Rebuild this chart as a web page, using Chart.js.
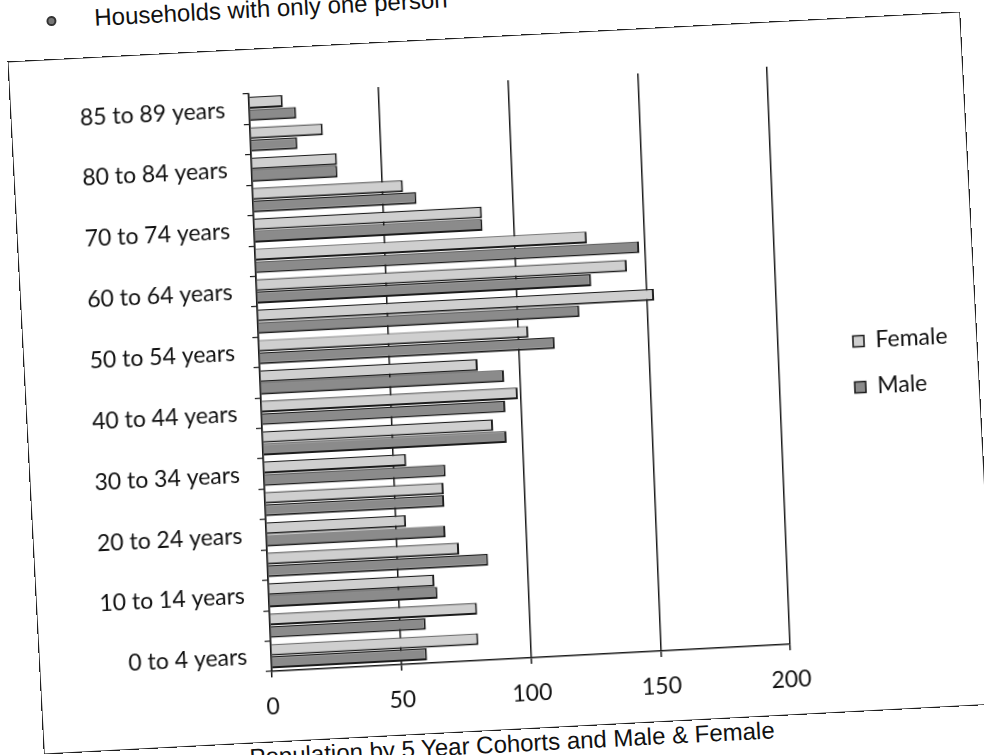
<!DOCTYPE html>
<html>
<head>
<meta charset="utf-8">
<script src="https://cdn.jsdelivr.net/npm/chart.js@4.4.1/dist/chart.umd.min.js"></script>
<style>
  html, body { margin: 0; padding: 0; background: #fff; overflow: hidden; }
  body { width: 984px; height: 755px; position: relative; }
  #frame {
    position: absolute; left: 25.5px; top: 36.5px; width: 952px; height: 692px;
    transform: rotate(-3deg); transform-origin: 50% 50%;
  }
  #border {
    position: absolute; left: 0; top: 0; width: 952px; height: 692px;
    outline: 1.5px solid #1e1e1e; pointer-events: none;
  }
  #chart {
    position: absolute; left: 0; top: 0;
    transform: translateX(3.4px) skewX(-0.7deg); transform-origin: 50% 50%;
  }
  #doctext {
    position: absolute; left: 88px; top: -52px; white-space: nowrap;
    font-family: "Liberation Sans", Arial, sans-serif; font-size: 24px; line-height: 24px; color: #111;
  }
  #bullet {
    position: absolute; left: 40px; top: -44px; width: 6px; height: 6px;
    border: 2px solid #333; border-radius: 50%; background: #777;
  }
  #caption {
    position: absolute; right: 222px; top: 693px; white-space: nowrap;
    font-family: "Liberation Sans", Arial, sans-serif; font-size: 24px; line-height: 28px; color: #111;
  }
</style>
</head>
<body>
<div id="frame">
  <div id="bullet"></div>
  <div id="doctext">Households with only one person</div>
  <canvas id="chart" width="952" height="692"></canvas>
  <div id="border"></div>
  <div id="caption">Population by 5 Year Cohorts and Male &amp; Female</div>
</div>
<script>
const ageGroups = [
  "0 to 4 years", "5 to 9 years", "10 to 14 years", "15 to 19 years",
  "20 to 24 years", "25 to 29 years", "30 to 34 years", "35 to 39 years",
  "40 to 44 years", "45 to 49 years", "50 to 54 years", "55 to 59 years",
  "60 to 64 years", "65 to 69 years", "70 to 74 years", "75 to 79 years",
  "80 to 84 years", "85 years and over", "85 to 89 years"
];
const femaleValues = [80, 80, 64, 74, 54, 69, 55, 89, 99, 84, 104, 153, 143, 128, 88, 58, 33, 28, 13];
const maleValues   = [60, 60, 65, 85, 69, 69, 70, 94, 94, 94, 114, 124, 129, 148, 88, 63, 33, 18, 18];
const seriesNames = ["Female", "Male"];
const valueTicks = [0, 50, 100, 150, 200];

Chart.defaults.font.family = "Lato, 'Open Sans', sans-serif";
Chart.defaults.color = "#111";

const legendPlacer = {
  id: 'legendPlacer',
  afterLayout(chart) {
    const lg = chart.legend;
    if (!lg) return;
    const w = lg.right - lg.left;
    lg.left = 802; lg.right = lg.left + w;
    lg.top = 0; lg.bottom = chart.height;
  }
};

new Chart(document.getElementById('chart'), {
  type: 'bar',
  data: {
    labels: ageGroups,
    datasets: [
      {
        label: seriesNames[0], data: femaleValues,
        backgroundColor: '#cfcfcf', borderColor: '#1c1c1c',
        borderWidth: { top: 1.2, right: 2, bottom: 2, left: 1 }
      },
      {
        label: seriesNames[1], data: maleValues,
        backgroundColor: '#8b8b8b', borderColor: '#1c1c1c',
        borderWidth: { top: 1.2, right: 2, bottom: 2, left: 1 }
      }
    ]
  },
  options: {
    indexAxis: 'y',
    responsive: false,
    animation: false,
    devicePixelRatio: 1,
    categoryPercentage: 0.82,
    barPercentage: 0.95,
    layout: { padding: { top: 44, right: 82, bottom: 0, left: 0 } },
    plugins: {
      legend: {
        position: 'right',
        maxWidth: 120,
        labels: {
          boxWidth: 11, boxHeight: 11, padding: 23,
          font: { size: 23 }, color: '#111'
        }
      },
      tooltip: { enabled: false },
      title: { display: false }
    },
    scales: {
      x: {
        min: valueTicks[0], max: valueTicks[valueTicks.length - 1],
        afterFit(scale) { scale.height = 70; },
        afterBuildTicks(scale) { scale.ticks = valueTicks.map(v => ({ value: v })); },
        ticks: { font: { size: 23 }, color: '#111', padding: 16 },
        grid: { color: '#1a1a1a', lineWidth: 1.5, tickLength: 6, drawTicks: true },
        border: { display: true, color: '#1a1a1a', width: 1.5 }
      },
      y: {
        reverse: true,
        afterFit(scale) { scale.width = 231; },
        ticks: {
          autoSkip: false, font: { size: 23 }, color: '#111', padding: 18,
          callback(value, index) { return index % 2 === 0 ? ageGroups[index] : ''; }
        },
        grid: { drawOnChartArea: false, tickLength: 6, color: '#1a1a1a', lineWidth: 1.2 },
        border: { display: true, color: '#1a1a1a', width: 1.5 }
      }
    }
  },
  plugins: [legendPlacer]
});
</script>
</body>
</html>
